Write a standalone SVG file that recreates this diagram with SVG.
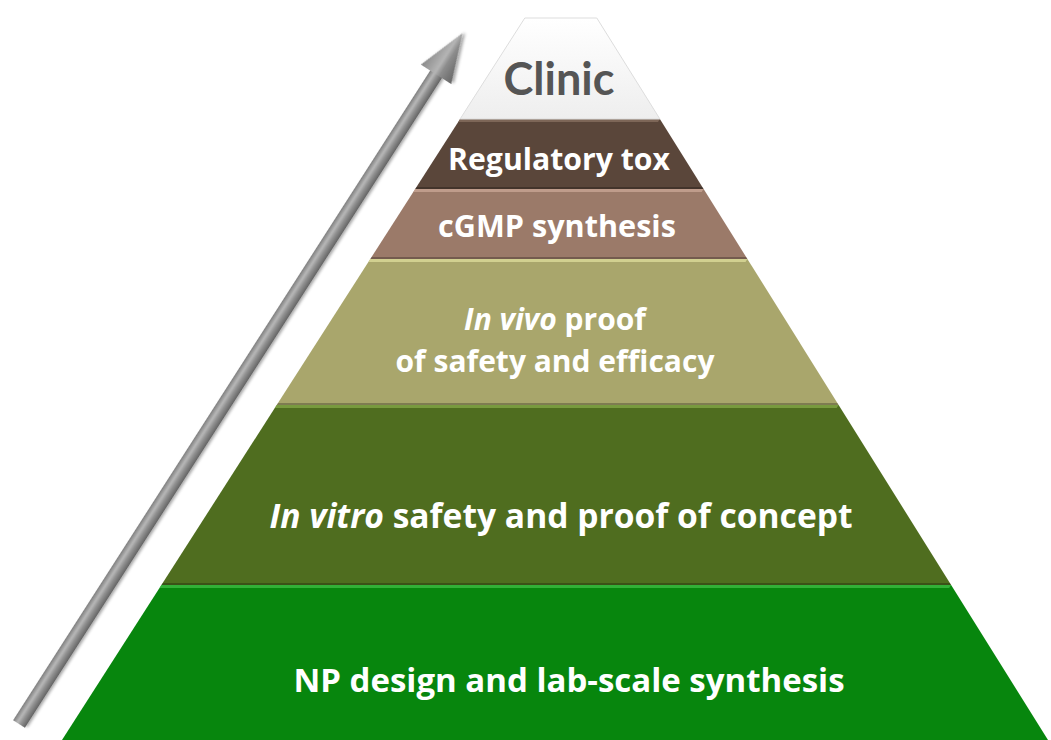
<svg xmlns="http://www.w3.org/2000/svg" width="1051" height="740" viewBox="0 0 1051 740">
  <defs>
    <linearGradient id="clinicGrad" x1="0" y1="0" x2="0" y2="1">
      <stop offset="0" stop-color="#ffffff"/>
      <stop offset="1" stop-color="#eeeeee"/>
    </linearGradient>
    <linearGradient id="shaftGrad" gradientUnits="userSpaceOnUse" x1="0" y1="-7" x2="0" y2="7">
      <stop offset="0" stop-color="#7e7e7e"/>
      <stop offset="0.35" stop-color="#b8b8b8"/>
      <stop offset="0.6" stop-color="#929292"/>
      <stop offset="1" stop-color="#636363"/>
    </linearGradient>
    <linearGradient id="headGrad" gradientUnits="userSpaceOnUse" x1="0" y1="-18" x2="0" y2="18">
      <stop offset="0" stop-color="#8a8a8a"/>
      <stop offset="0.45" stop-color="#b4b4b4"/>
      <stop offset="0.6" stop-color="#8c8c8c"/>
      <stop offset="1" stop-color="#656565"/>
    </linearGradient>
    <filter id="shadow" x="-10%" y="-10%" width="120%" height="120%">
      <feGaussianBlur in="SourceAlpha" stdDeviation="1.5"/>
      <feOffset dx="2" dy="2" result="b"/>
      <feComponentTransfer><feFuncA type="linear" slope="0.35"/></feComponentTransfer>
      <feMerge><feMergeNode/><feMergeNode in="SourceGraphic"/></feMerge>
    </filter>
  </defs>
  <style>
    .lbl { font-family: "Open Sans", "Liberation Sans", sans-serif; font-weight: bold; fill: #ffffff; text-anchor: middle; }
    .it { font-style: italic; }
    .hl { opacity: 0.7; }
    .sh { opacity: 0.25; }
  </style>
  <rect width="1051" height="740" fill="#ffffff"/>

  <g id="arrow" transform="translate(19,724) rotate(-57.3)" filter="url(#shadow)">
    <rect x="0" y="-7" width="777" height="14" fill="url(#shaftGrad)"/>
    <polygon points="772,-18 821,0 772,18" fill="url(#headGrad)"/>
  </g>

  <g id="layer-np">
    <polygon points="161.4,585 951.1,585 1048,740 62,740" fill="#07860d"/>
    <polygon points="161.4,585 951.1,585 949.2,588 159.5,588" fill="#45c24a" class="hl"/>
    <text class="lbl" x="569" y="692" font-size="33">NP design and lab-scale synthesis</text>
  </g>

  <g id="layer-invitro">
    <polygon points="276.7,405 838.6,405 951.1,585 161.4,585" fill="#4f6d1f"/>
    <polygon points="276.7,405 838.6,405 836.7,408 274.8,408" fill="#8aae4c" class="hl"/>
    <polygon points="162.6,583 949.9,583 951.1,585 161.4,585" fill="#000000" class="sh"/>
    <text class="lbl" x="561" y="528" font-size="33.6"><tspan class="it">In vitro</tspan> safety and proof of concept</text>
  </g>

  <g id="layer-invivo">
    <polygon points="370.3,259 747.4,259 838.6,405 276.7,405" fill="#a9a66c"/>
    <polygon points="370.3,259 747.4,259 745.5,262 368.4,262" fill="#e2e2a0" class="hl"/>
    <polygon points="278,403 837.4,403 838.6,405 276.7,405" fill="#000000" class="sh"/>
    <text class="lbl" x="555" y="330" font-size="30"><tspan class="it">In vivo</tspan> proof</text>
    <text class="lbl" x="555" y="372" font-size="30">of safety and efficacy</text>
  </g>

  <g id="layer-cgmp">
    <polygon points="415.2,189 703.6,189 747.4,259 370.3,259" fill="#9b7a69"/>
    <polygon points="415.2,189 703.6,189 701.7,192 413.3,192" fill="#cfab9a" class="hl"/>
    <polygon points="371.6,257 746.1,257 747.4,259 370.3,259" fill="#000000" class="sh"/>
    <text class="lbl" x="557" y="237" font-size="30.6">cGMP synthesis</text>
  </g>

  <g id="layer-regtox">
    <polygon points="460.1,119 659.9,119 703.6,189 415.2,189" fill="#5a463a"/>
    <polygon points="460.1,119 659.9,119 658,122 458.2,122" fill="#8c7464" class="hl"/>
    <polygon points="416.5,187 702.4,187 703.6,189 415.2,189" fill="#000000" class="sh"/>
    <text class="lbl" x="559" y="170" font-size="30.2">Regulatory tox</text>
  </g>

  <g id="layer-clinic">
    <polygon points="524.8,18 596.8,18 659.9,119 460.1,119" fill="url(#clinicGrad)" stroke="#dddddd" stroke-width="1"/>
    <text x="559" y="95" font-size="45" font-family="Lato, 'Liberation Sans', sans-serif" font-weight="bold" fill="#555555" text-anchor="middle">Clinic</text>
  </g>
</svg>
